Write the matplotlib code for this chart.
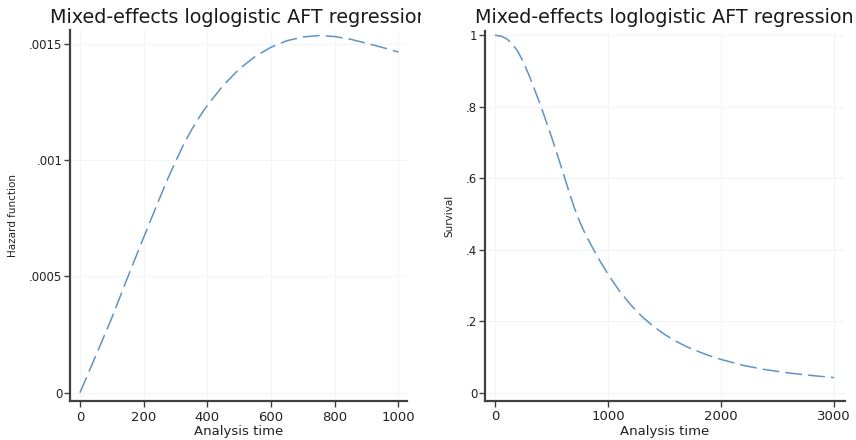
import matplotlib
matplotlib.use("Agg")
import matplotlib.pyplot as plt
from matplotlib.transforms import Bbox, TransformedBbox

# ---- data ----
haz_time = [0, 50, 100, 150, 200, 225, 250, 275, 300, 325, 350, 375, 400,
            450, 500, 550, 600, 650, 700, 750, 800, 850, 900, 950, 1000]
haz_value = [0.0, 0.000160, 0.000322, 0.000497, 0.000668, 0.000752, 0.000836,
             0.000918, 0.000994, 0.001066, 0.001130, 0.001186, 0.001236,
             0.001322, 0.001392, 0.001446, 0.001486, 0.001514, 0.001530,
             0.001536, 0.001532, 0.001520, 0.001503, 0.001485, 0.001465]

surv_time = [0, 50, 100, 150, 200, 250, 300, 400, 500, 600, 650, 700, 750, 800,
             900, 1000, 1100, 1200, 1300, 1400, 1500, 1600, 1700, 1800, 1900,
             2000, 2200, 2400, 2600, 2800, 3000]
surv_value = [1.0, 0.998, 0.991, 0.977, 0.956, 0.926, 0.889, 0.807, 0.716,
              0.618, 0.567, 0.519, 0.478, 0.443, 0.384, 0.331, 0.285, 0.246,
              0.213, 0.186, 0.163, 0.144, 0.128, 0.115, 0.103, 0.093, 0.076,
              0.064, 0.055, 0.048, 0.042]

haz_xticks = [0, 200, 400, 600, 800, 1000]
haz_xticklabels = ["0", "200", "400", "600", "800", "1000"]
haz_yticks = [0, 0.0005, 0.001, 0.0015]
haz_yticklabels = ["0", ".0005", ".001", ".0015"]

surv_xticks = [0, 1000, 2000, 3000]
surv_xticklabels = ["0", "1000", "2000", "3000"]
surv_yticks = [0, 0.2, 0.4, 0.6, 0.8, 1.0]
surv_yticklabels = ["0", ".2", ".4", ".6", ".8", "1"]

title_text = "Mixed-effects loglogistic AFT regression"
xlabel_text = "Analysis time"
haz_ylabel = "Hazard function"
surv_ylabel = "Survival"

W, H = 856, 440
fig = plt.figure(figsize=(W / 100, H / 100), dpi=100)
fig.patch.set_facecolor("white")

line_color = "#5f93c6"
spine_color = "#404040"
text_color = "#222222"


def px_rect(x0, x1, ytop, ybot):
    return [x0 / W, (H - ybot) / H, (x1 - x0) / W, (ybot - ytop) / H]


def style(ax, xticks, xtl, yticks, ytl, ylabel, ylab_x):
    for s in ["top", "right"]:
        ax.spines[s].set_visible(False)
    for s in ["left", "bottom"]:
        ax.spines[s].set_color(spine_color)
        ax.spines[s].set_linewidth(1.6)
    ax.set_xticks(xticks)
    ax.set_xticklabels(xtl, fontsize=9.5, color=text_color)
    ax.set_yticks(yticks)
    ax.set_yticklabels(ytl, fontsize=8.5, color=text_color)
    ax.tick_params(axis="x", length=4, width=1, color=spine_color, pad=3)
    ax.tick_params(axis="y", length=4, width=1, color=spine_color, pad=1.5)
    ax.grid(True, color="#f2f5f5", linewidth=0.8)
    ax.set_axisbelow(True)
    ax.set_xlabel(xlabel_text, fontsize=9.5, color=text_color, labelpad=1)
    ax.set_ylabel(ylabel, fontsize=7.5, color=text_color)
    ax.yaxis.set_label_coords(ylab_x, 0.5)


# ---- left: hazard ----
ax1 = fig.add_axes(px_rect(70, 407, 30, 401))
ax1.plot(haz_time, haz_value, color=line_color, linewidth=1.1,
         dashes=(11, 4), dash_capstyle="butt")
ax1.set_xlim(-31.4, 1027)
ax1.set_ylim(-3.6e-5, 0.00156)
style(ax1, haz_xticks, haz_xticklabels, haz_yticks, haz_yticklabels,
      haz_ylabel, (18 - 70) / 337)

# ---- right: survival ----
ax2 = fig.add_axes(px_rect(485, 845, 31, 400.5))
ax2.plot(surv_time, surv_value, color=line_color, linewidth=1.1,
         dashes=(11, 4), dash_capstyle="butt")
ax2.set_xlim(-88.5, 3097)
ax2.set_ylim(-0.022, 1.012)
style(ax2, surv_xticks, surv_xticklabels, surv_yticks, surv_yticklabels,
      surv_ylabel, (454 - 485) / 360)

# ---- titles (clipped like the combined-graph panels) ----
t1 = fig.text(239 / W, (H - 23) / H, title_text, ha="center", va="baseline",
              fontsize=13.8, color="#1a1a1a")
t1.set_clip_box(TransformedBbox(Bbox([[0, 0], [421 / W, 1]]), fig.transFigure))
t1.set_clip_on(True)
t2 = fig.text(664 / W, (H - 23) / H, title_text, ha="center", va="baseline",
              fontsize=13.8, color="#1a1a1a")
t2.set_clip_box(TransformedBbox(Bbox([[428 / W, 0], [1, 1]]), fig.transFigure))
t2.set_clip_on(True)

fig.savefig("out.png", dpi=100, facecolor="white")
